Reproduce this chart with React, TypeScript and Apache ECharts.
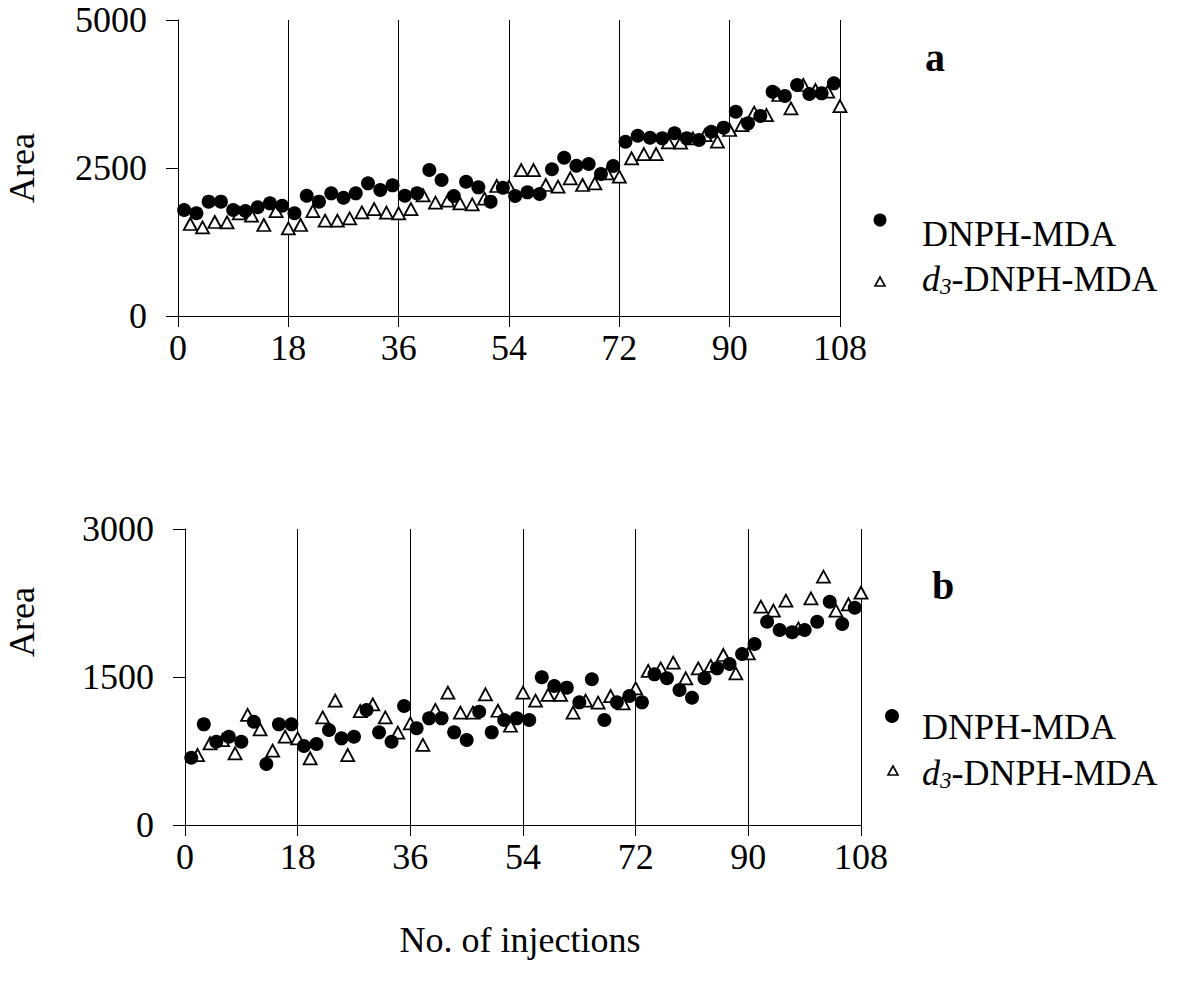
import React, { useEffect, useRef } from "react";
import * as echarts from "echarts";

const FONT = '"Liberation Serif", "Times New Roman", Times, serif';
const FS = 36;

// Injection numbers
const oddInjections = [1, 3, 5, 7, 9, 11, 13, 15, 17, 19, 21, 23, 25, 27, 29, 31, 33, 35, 37, 39, 41, 43, 45, 47, 49, 51, 53, 55, 57, 59, 61, 63, 65, 67, 69, 71, 73, 75, 77, 79, 81, 83, 85, 87, 89, 91, 93, 95, 97, 99, 101, 103, 105, 107];
const evenInjections = [2, 4, 6, 8, 10, 12, 14, 16, 18, 20, 22, 24, 26, 28, 30, 32, 34, 36, 38, 40, 42, 44, 46, 48, 50, 52, 54, 56, 58, 60, 62, 64, 66, 68, 70, 72, 74, 76, 78, 80, 82, 84, 86, 88, 90, 92, 94, 96, 98, 100, 102, 104, 106, 108];

// Panel a
const aDnph = [1790, 1735, 1931, 1931, 1790, 1773, 1836, 1903, 1863, 1735, 2032, 1931, 2072, 1998, 2072, 2241, 2128, 2207, 2032, 2072, 2466, 2297, 2027, 2268, 2173, 1931, 2167, 2027, 2089, 2061, 2478, 2674, 2539, 2567, 2398, 2533, 2944, 3045, 3011, 3001, 3086, 3001, 2973, 3113, 3181, 3451, 3254, 3378, 3789, 3716, 3902, 3750, 3761, 3930];
const aD3 = [1554, 1498, 1588, 1582, 1735, 1694, 1537, 1773, 1481, 1537, 1773, 1610, 1610, 1650, 1751, 1807, 1745, 1735, 1807, 2038, 1914, 1948, 1903, 1886, 1981, 2196, 2184, 2466, 2466, 2213, 2184, 2326, 2213, 2241, 2410, 2353, 2664, 2736, 2736, 2934, 2928, 3001, 3057, 2945, 3142, 3226, 3434, 3395, 3733, 3508, 3902, 3817, 3789, 3547];

// Panel b
const bDnph = [682, 1020, 844, 895, 844, 1047, 618, 1020, 1020, 801, 821, 963, 878, 895, 1166, 939, 844, 1206, 980, 1081, 1081, 939, 861, 1148, 939, 1064, 1081, 1064, 1497, 1409, 1392, 1243, 1477, 1064, 1243, 1307, 1243, 1527, 1487, 1368, 1290, 1487, 1588, 1632, 1733, 1834, 2060, 1976, 1953, 1976, 2060, 2263, 2037, 2202];
const bD3 = [709, 828, 861, 727, 1115, 970, 753, 895, 878, 676, 1091, 1260, 709, 1155, 1223, 1091, 936, 1030, 811, 1166, 1341, 1138, 1138, 1325, 1158, 1006, 1341, 1260, 1318, 1318, 1138, 1260, 1240, 1307, 1233, 1385, 1561, 1588, 1645, 1487, 1588, 1612, 1723, 1537, 1740, 2213, 2172, 2273, 1993, 2297, 2517, 2172, 2237, 2354];

const xTicks = [0, 18, 36, 54, 72, 90, 108];
const aYMax = 5000;
const aYStep = 2500;
const bYMax = 3000;
const bYStep = 1500;

const pairs = (xs: number[], ys: number[]) => ys.map((y, i) => [xs[i], y]);

const xAxisCfg = (gridIndex: number) => ({
  type: "value",
  gridIndex,
  min: xTicks[0],
  max: xTicks[xTicks.length - 1],
  interval: xTicks[1] - xTicks[0],
  axisLine: { show: true, lineStyle: { color: "#000", width: 1 } },
  axisTick: { show: true, length: 11, lineStyle: { color: "#000", width: 1 } },
  axisLabel: { color: "#000", fontSize: FS, fontFamily: FONT, margin: 14, formatter: (v: number) => String(v) },
  splitLine: { show: true, lineStyle: { color: "#000", width: 1 } },
});

const yAxisCfg = (gridIndex: number, max: number, step: number) => ({
  type: "value",
  gridIndex,
  min: 0,
  max,
  interval: step,
  axisLine: { show: true, lineStyle: { color: "#000", width: 1 } },
  axisTick: { show: true, length: 12, lineStyle: { color: "#000", width: 1 } },
  axisLabel: { color: "#000", fontSize: FS, fontFamily: FONT, margin: 31, formatter: (v: number) => String(v) },
  splitLine: { show: false },
});

const triStyle = { color: "#fff", borderColor: "#000", borderWidth: 1.8, opacity: 1 };
const dotStyle = { color: "#000", opacity: 1 };

export default function App() {
  const ref = useRef<HTMLDivElement>(null);
  useEffect(() => {
    if (!ref.current) return;
    const chart = echarts.init(ref.current, null, { renderer: "svg" });
    const textBase = { fill: "#000", fontFamily: FONT, fontSize: FS };
    const d3Rich = {
      i: { fontStyle: "italic", fontSize: FS, fontFamily: FONT, fill: "#000" },
      s: { fontStyle: "italic", fontSize: 23, fontFamily: FONT, fill: "#000", padding: [15, 0, 0, 0] },
      n: { fontSize: FS, fontFamily: FONT, fill: "#000" },
    };
    chart.setOption({
      animation: false,
      backgroundColor: "#fff",
      grid: [
        { left: 178, top: 20, width: 662, height: 296, containLabel: false },
        { left: 185, top: 529, width: 676, height: 296, containLabel: false },
      ],
      xAxis: [xAxisCfg(0), xAxisCfg(1)],
      yAxis: [yAxisCfg(0, aYMax, aYStep), yAxisCfg(1, bYMax, bYStep)],
      series: [
        {
          name: "d3-DNPH-MDA a",
          type: "scatter",
          xAxisIndex: 0,
          yAxisIndex: 0,
          symbol: "triangle",
          symbolSize: [13, 12],
          itemStyle: triStyle,
          data: pairs(evenInjections, aD3),
        },
        {
          name: "DNPH-MDA a",
          type: "scatter",
          xAxisIndex: 0,
          yAxisIndex: 0,
          symbol: "circle",
          symbolSize: 14,
          itemStyle: dotStyle,
          data: pairs(oddInjections, aDnph),
        },
        {
          name: "d3-DNPH-MDA b",
          type: "scatter",
          xAxisIndex: 1,
          yAxisIndex: 1,
          symbol: "triangle",
          symbolSize: [13, 12],
          itemStyle: triStyle,
          data: pairs(evenInjections, bD3),
        },
        {
          name: "DNPH-MDA b",
          type: "scatter",
          xAxisIndex: 1,
          yAxisIndex: 1,
          symbol: "circle",
          symbolSize: 14,
          itemStyle: dotStyle,
          data: pairs(oddInjections, bDnph),
        },
      ],
      graphic: [
        { type: "text", x: 22, y: 168, rotation: Math.PI / 2, style: { ...textBase, text: "Area", align: "center", verticalAlign: "middle" } },
        { type: "text", x: 22, y: 622, rotation: Math.PI / 2, style: { ...textBase, text: "Area", align: "center", verticalAlign: "middle" } },
        { type: "text", x: 935, y: 57, style: { ...textBase, text: "a", fontWeight: "bold", fontSize: 40, align: "center", verticalAlign: "middle" } },
        { type: "text", x: 943, y: 585, style: { ...textBase, text: "b", fontWeight: "bold", fontSize: 40, align: "center", verticalAlign: "middle" } },
        { type: "text", x: 520, y: 940, style: { ...textBase, text: "No. of injections", align: "center", verticalAlign: "middle" } },
        // legend a
        { type: "circle", shape: { cx: 880, cy: 220, r: 6.5 }, style: { fill: "#000" } },
        { type: "text", x: 922, y: 234, style: { ...textBase, text: "DNPH-MDA", align: "left", verticalAlign: "middle" } },
        { type: "polygon", shape: { points: [[875, 286], [885, 286], [880, 277]] }, style: { fill: "#fff", stroke: "#000", lineWidth: 1.6 } },
        { type: "text", x: 922, y: 279, style: { text: "{i|d}{s|3}{n|-DNPH-MDA}", rich: d3Rich, align: "left", verticalAlign: "middle" } },
        // legend b
        { type: "circle", shape: { cx: 892, cy: 716, r: 7 }, style: { fill: "#000" } },
        { type: "text", x: 922, y: 727, style: { ...textBase, text: "DNPH-MDA", align: "left", verticalAlign: "middle" } },
        { type: "polygon", shape: { points: [[888, 775], [898, 775], [893, 766]] }, style: { fill: "#fff", stroke: "#000", lineWidth: 1.6 } },
        { type: "text", x: 922, y: 773, style: { text: "{i|d}{s|3}{n|-DNPH-MDA}", rich: d3Rich, align: "left", verticalAlign: "middle" } },
      ],
    });
    return () => chart.dispose();
  }, []);
  return (
    <div
      ref={ref}
      style={{ position: "fixed", left: 0, top: 0, width: 1187, height: 994, background: "#fff" }}
    />
  );
}
